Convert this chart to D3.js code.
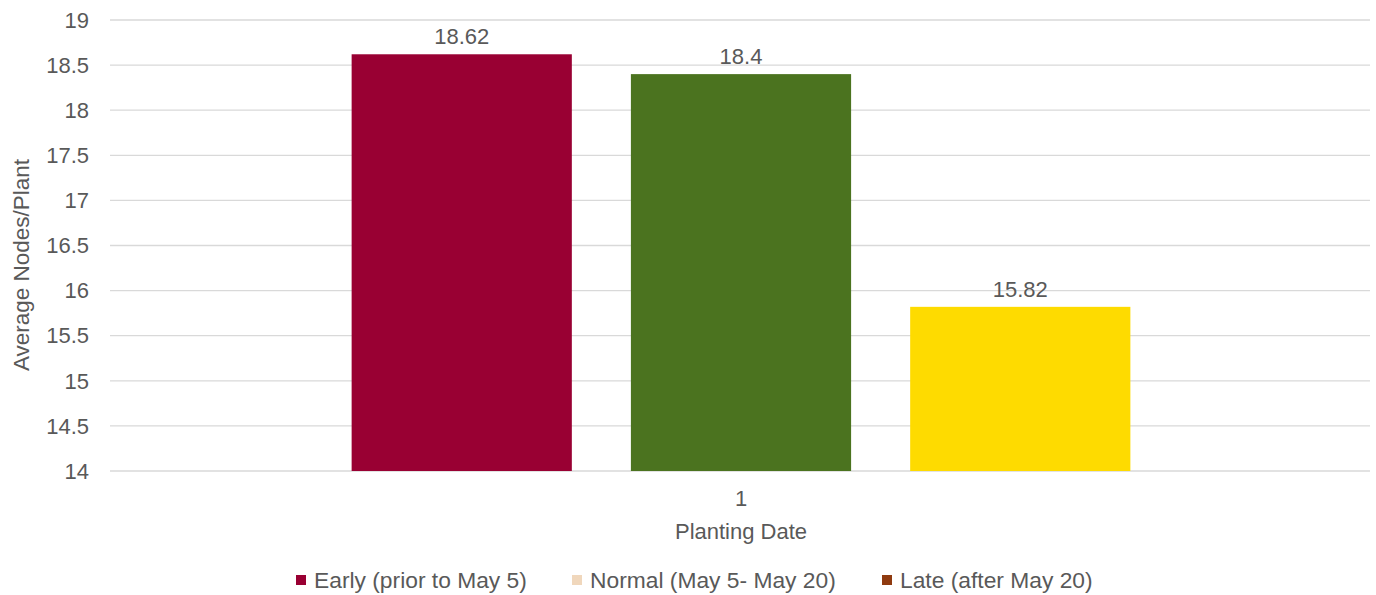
<!DOCTYPE html>
<html><head><meta charset="utf-8">
<script src="https://cdn.jsdelivr.net/npm/d3@7"></script>
<style>body{margin:0;background:#fff}svg{display:block}text{font-family:"Liberation Sans",Arial,sans-serif;fill:#595959}</style>
</head><body><div id="chart"></div>
<script>
const categories = ["1"];
const seriesNames = ["Early (prior to May 5)", "Normal (May 5- May 20)", "Late (after May 20)"];
const values = [18.62, 18.4, 15.82];
const valueLabels = ["18.62", "18.4", "15.82"];
const barColors = ["#990033", "#4B731F", "#FEDB00"];
const legendColors = ["#990033", "#F0D7BC", "#8F3A10"];
const yTicks = [14, 14.5, 15, 15.5, 16, 16.5, 17, 17.5, 18, 18.5, 19];

const W = 1376, H = 595;
const m = {left: 110, right: 6, top: 20, bottom: 124};
const FS = 22;
const svg = d3.select("#chart").append("svg").attr("width", W).attr("height", H);
const x0 = d3.scaleBand().domain(categories).range([m.left + 1, W - m.right + 1]).paddingOuter(0.309).paddingInner(0);
const x1 = d3.scaleBand().domain(d3.range(values.length)).range([0, x0.bandwidth()]).paddingInner(0.2115).paddingOuter(0);
const y = d3.scaleLinear().domain([14, 19]).range([H - m.bottom, m.top]);

// gridlines
svg.append("g").selectAll("line").data(yTicks).join("line")
  .attr("x1", m.left).attr("x2", W - m.right)
  .attr("y1", d => y(d)).attr("y2", d => y(d))
  .attr("stroke", "#d9d9d9").attr("stroke-width", 1.3);

// y tick labels
svg.append("g").selectAll("text").data(yTicks).join("text")
  .attr("x", 89).attr("y", d => y(d)).attr("dy", "0.35em")
  .attr("text-anchor", "end").style("font-size", FS + "px").text(d => d);

// bars
const g = svg.append("g").attr("transform", `translate(${x0(categories[0])},0)`);
g.selectAll("rect").data(values).join("rect")
  .attr("x", (d, i) => x1(i)).attr("width", x1.bandwidth())
  .attr("y", d => y(d)).attr("height", d => y(14) - y(d))
  .attr("fill", (d, i) => barColors[i]);
g.selectAll("text.lbl").data(values).join("text").attr("class", "lbl")
  .attr("x", (d, i) => x1(i) + x1.bandwidth() / 2).attr("y", d => y(d) - 10)
  .attr("text-anchor", "middle").style("font-size", FS + "px").text((d, i) => valueLabels[i]);

// x axis labels
svg.append("g").selectAll("text").data(categories).join("text")
  .attr("x", d => x0(d) + x0.bandwidth() / 2).attr("y", 506)
  .attr("text-anchor", "middle").style("font-size", FS + "px").text(d => d);
svg.append("text").attr("x", x0(categories[0]) + x0.bandwidth() / 2).attr("y", 539)
  .attr("text-anchor", "middle").style("font-size", FS + "px").text("Planting Date");

// y axis title
svg.append("text").attr("transform", "translate(29,265) rotate(-90)")
  .attr("text-anchor", "middle").style("font-size", "22.5px").text("Average Nodes/Plant");

// legend
const legX = [296, 572, 882];
const leg = svg.append("g").selectAll("g").data(seriesNames).join("g")
  .attr("transform", (d, i) => `translate(${legX[i]},580)`);
leg.append("rect").attr("x", 0).attr("y", -5).attr("width", 10).attr("height", 10)
  .attr("fill", (d, i) => legendColors[i]);
leg.append("text").attr("x", 18).attr("y", 0).attr("dy", "0.35em")
  .style("font-size", "22.8px").text(d => d);
</script></body></html>
